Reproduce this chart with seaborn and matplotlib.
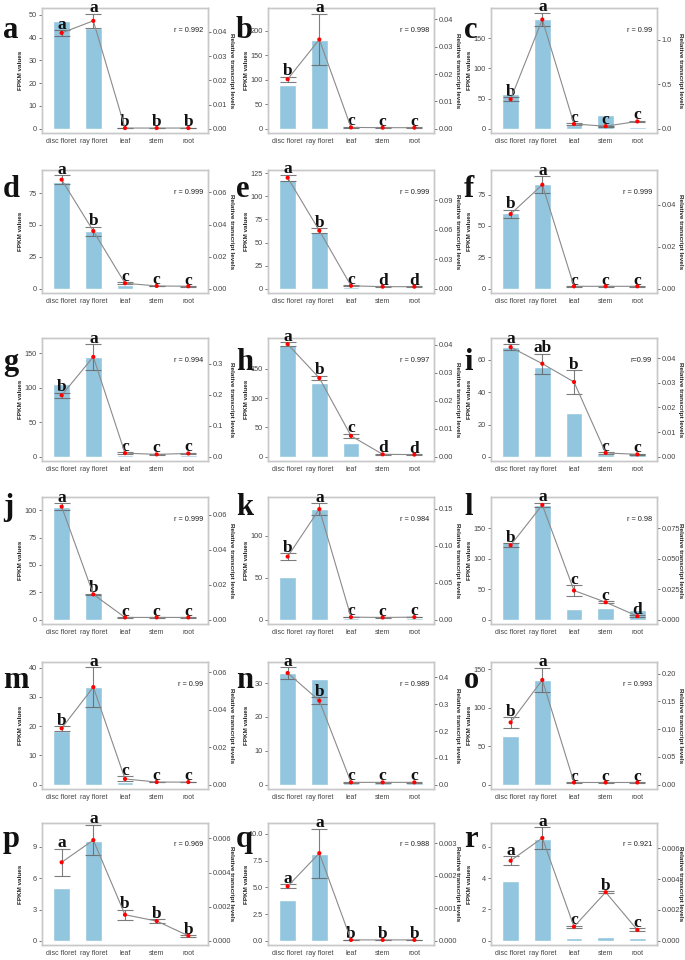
# FPKM vs relative transcript levels — 18 gene panels (a-r)

import numpy as np
import pandas as pd
import matplotlib
matplotlib.use('Agg')
import matplotlib.pyplot as plt
import seaborn as sns

sns.set_theme(style="white")
plt.rcParams['font.family'] = ['Liberation Sans', 'DejaVu Sans']

# --- Data ---
tissues = ['disc floret', 'ray floret', 'leaf', 'stem', 'root']
panel_ids = list('abcdefghijklmnopqr')

# FPKM bars (left axis)
fpkm = [
    [47.3, 44.2, 0.5, 0.3, 0.3],      # a
    [89, 181, 3, 2, 2],               # b
    [58, 182, 7, 22, 3],              # c
    [84, 45, 3, 1, 1],                # d
    [118, 61, 2, 1, 1],               # e
    [60.5, 83, 1, 0.8, 0.8],          # f
    [106, 145, 3, 1, 2],              # g
    [191, 125, 23, 2, 1],             # h
    [68, 55.7, 27.4, 2, 2.5],         # i
    [103.3, 23.5, 1, 0.5, 0.5],       # j
    [51, 132, 2, 1, 1.5],             # k
    [128, 188, 17.7, 19.2, 15.6],     # l
    [18.3, 33.3, 0.9, 0.3, 0.3],      # m
    [32.9, 31.1, 0.5, 0.5, 0.5],      # n
    [63.8, 136, 1.5, 1.5, 1.5],       # o
    [5.1, 9.6, 0.1, 0.1, 0.08],       # p
    [3.8, 8.1, 0.1, 0.1, 0.05],       # q
    [3.8, 6.5, 0.2, 0.25, 0.2],       # r
]

# relative transcript levels (right axis) and their errors
rel = [
    [0.0396, 0.0446, 0.0003, 0.0003, 0.0003],
    [0.0181, 0.0326, 0.0005, 0.0004, 0.0004],
    [0.333, 1.23, 0.054, 0.029, 0.083],
    [0.068, 0.036, 0.0035, 0.0018, 0.0016],
    [0.1126, 0.059, 0.0031, 0.0022, 0.0022],
    [0.0355, 0.0494, 0.0012, 0.0012, 0.0012],
    [0.199, 0.323, 0.012, 0.008, 0.011],
    [0.0403, 0.0282, 0.0075, 0.0009, 0.0008],
    [0.0444, 0.0377, 0.0303, 0.0016, 0.001],
    [0.0647, 0.0145, 0.0013, 0.0013, 0.0013],
    [0.0854, 0.1496, 0.0035, 0.003, 0.0035],
    [0.061, 0.094, 0.0239, 0.0143, 0.0029],
    [0.0301, 0.0521, 0.0031, 0.0014, 0.0014],
    [0.416, 0.313, 0.0087, 0.0087, 0.0087],
    [0.1122, 0.1887, 0.004, 0.004, 0.004],
    [0.0046, 0.0059, 0.00153, 0.00116, 0.0003],
    [0.00168, 0.0027, 0.00003, 0.00003, 0.00003],
    [0.00519, 0.00666, 0.00092, 0.00315, 0.00071],
]
rel_err = [
    [0.0011, 0.003, 0.0001, 0.0001, 0.0001],
    [0.0009, 0.0094, 0.0002, 0.0001, 0.0001],
    [0.02, 0.075, 0.012, 0.005, 0.01],
    [0.0027, 0.0028, 0.0007, 0.0002, 0.0002],
    [0.003, 0.0025, 0.0005, 0.0002, 0.0002],
    [0.002, 0.0041, 0.0002, 0.0001, 0.0001],
    [0.008, 0.041, 0.003, 0.002, 0.002],
    [0.0006, 0.0008, 0.0008, 0.0002, 0.0001],
    [0.0013, 0.0041, 0.0047, 0.0004, 0.0002],
    [0.002, 0.0003, 0.0002, 0.0001, 0.0001],
    [0.0046, 0.0078, 0.0005, 0.0003, 0.0004],
    [0.0016, 0.0019, 0.0045, 0.001, 0.0008],
    [0.0012, 0.0105, 0.0013, 0.0002, 0.0002],
    [0.022, 0.014, 0.002, 0.002, 0.002],
    [0.0095, 0.0218, 0.001, 0.001, 0.001],
    [0.0008, 0.0009, 0.0003, 0.0001, 0.00005],
    [0.00006, 0.00075, 0.00001, 0.00001, 0.00001],
    [0.00028, 0.00071, 0.00007, 0.00007, 0.0001],
]

sig_letters = [
    ['a', 'a', 'b', 'b', 'b'], ['b', 'a', 'c', 'c', 'c'], ['b', 'a', 'c', 'c', 'c'],
    ['a', 'b', 'c', 'c', 'c'], ['a', 'b', 'c', 'd', 'd'], ['b', 'a', 'c', 'c', 'c'],
    ['b', 'a', 'c', 'c', 'c'], ['a', 'b', 'c', 'd', 'd'], ['a', 'ab', 'b', 'c', 'c'],
    ['a', 'b', 'c', 'c', 'c'], ['b', 'a', 'c', 'c', 'c'], ['b', 'a', 'c', 'c', 'd'],
    ['b', 'a', 'c', 'c', 'c'], ['a', 'b', 'c', 'c', 'c'], ['b', 'a', 'c', 'c', 'c'],
    ['a', 'a', 'b', 'b', 'b'], ['a', 'a', 'b', 'b', 'b'], ['a', 'a', 'c', 'b', 'c'],
]

r_labels = ['r = 0.992', 'r = 0.998', 'r = 0.99', 'r = 0.999', 'r = 0.999', 'r = 0.999',
            'r = 0.994', 'r = 0.997', 'r=0.99', 'r = 0.999', 'r = 0.984', 'r = 0.98',
            'r = 0.99', 'r = 0.989', 'r = 0.993', 'r = 0.969', 'r = 0.988', 'r = 0.921']

left_ticks = [
    ['0', '10', '20', '30', '40', '50'], ['0', '50', '100', '150', '200'], ['0', '50', '100', '150'],
    ['0', '25', '50', '75'], ['0', '25', '50', '75', '100', '125'], ['0', '25', '50', '75'],
    ['0', '50', '100', '150'], ['0', '50', '100', '150'], ['0', '20', '40', '60'],
    ['0', '25', '50', '75', '100'], ['0', '50', '100'], ['0', '50', '100', '150'],
    ['0', '10', '20', '30', '40'], ['0', '10', '20', '30'], ['0', '50', '100', '150'],
    ['0', '3', '6', '9'], ['0.0', '2.5', '5.0', '7.5', '10.0'], ['0', '2', '4', '6'],
]
left_top = [53, 246, 200, 93, 128.3, 94.5, 172, 202.5, 73.6,
            112, 146.5, 201, 41.9, 36.2, 159.5, 11.3, 11.0, 7.5]

right_ticks = [
    ['0.00', '0.01', '0.02', '0.03', '0.04'], ['0.00', '0.01', '0.02', '0.03', '0.04'], ['0.0', '0.5', '1.0'],
    ['0.00', '0.02', '0.04', '0.06'], ['0.00', '0.03', '0.06', '0.09'], ['0.00', '0.02', '0.04'],
    ['0.0', '0.1', '0.2', '0.3'], ['0.00', '0.01', '0.02', '0.03', '0.04'], ['0.00', '0.01', '0.02', '0.03', '0.04'],
    ['0.00', '0.02', '0.04', '0.06'], ['0.00', '0.05', '0.10', '0.15'], ['0.000', '0.025', '0.050', '0.075'],
    ['0.00', '0.02', '0.04', '0.06'], ['0.0', '0.1', '0.2', '0.3', '0.4'], ['0.00', '0.05', '0.10', '0.15', '0.20'],
    ['0.000', '0.002', '0.004', '0.006'], ['0.000', '0.001', '0.002', '0.003'], ['0.000', '0.002', '0.004', '0.006'],
]
right_top = [0.0499, 0.0441, 1.36, 0.074, 0.1204, 0.0564, 0.384, 0.0425, 0.0481,
             0.0702, 0.166, 0.1005, 0.0655, 0.457, 0.221, 0.0069, 0.00363, 0.00763]

# --- Style / layout ---
BAR_COLOR = '#92c5de'
SPINE_COLOR = '#c8c8c8'
W, H = 685, 960
col_left = [42, 268, 491]
col_width = 166
row_top = [8, 170, 338, 497, 662, 823]
row_bottom = [133, 293, 461, 624, 789, 945]
letter_x = [3, 236, 464]
letter_base = [30, 27, 32, 18, 26, 24]   # px below row top
PAD = 0.035

fig = plt.figure(figsize=(6.85, 9.6), dpi=100)

for k, pid in enumerate(panel_ids):
    row, col = divmod(k, 3)
    x0 = col_left[col]
    h = row_bottom[row] - row_top[row]
    ax = fig.add_axes([x0 / W, 1 - row_bottom[row] / H, col_width / W, h / H])

    df = pd.DataFrame({'tissue': tissues, 'fpkm': fpkm[k]})
    sns.barplot(data=df, x='tissue', y='fpkm', color=BAR_COLOR, saturation=1,
                width=0.52, edgecolor='white', linewidth=1, ax=ax)
    ax.set_ylim(-PAD * left_top[k], left_top[k])
    ax.set_yticks([float(t) for t in left_ticks[k]], labels=left_ticks[k])
    ax.set_xlabel('')
    ax.set_ylabel('FPKM values', fontsize=4.6, fontweight='bold', color='#222')
    ax.yaxis.set_label_coords(-0.115, 0.5)
    ax.tick_params(axis='y', labelsize=5.3, colors='#444', length=2, width=0.5, pad=1.5)
    ax.tick_params(axis='x', labelsize=5.0, colors='#444', length=2, width=0.5, pad=1.5)

    # relative transcript levels on the twin axis
    ax2 = ax.twinx()
    xs = np.arange(len(tissues))
    ax2.errorbar(xs, rel[k], yerr=rel_err[k], fmt='none', ecolor='#666666',
                 elinewidth=0.8, capsize=5.5, capthick=0.8, alpha=0.85, zorder=3)
    sns.lineplot(x=xs, y=rel[k], ax=ax2, color='#8a8a8a', linewidth=0.8, zorder=4)
    sns.scatterplot(x=xs, y=rel[k], ax=ax2, color='red', s=9, edgecolor='none', zorder=5)
    ax2.set_ylim(-PAD * right_top[k], right_top[k])
    ax2.set_yticks([float(t) for t in right_ticks[k]], labels=right_ticks[k])
    ax2.set_ylabel('Relative transcript levels', fontsize=4.6, fontweight='bold',
                   rotation=270, va='center', color='#222')
    ax2.yaxis.set_label_coords(1.14, 0.5)
    ax2.tick_params(axis='y', labelsize=5.3, colors='#444', length=2, width=0.5, pad=1.5)

    for i, lab in enumerate(sig_letters[k]):
        ax2.annotate(lab, (i, rel[k][i] + rel_err[k][i]), xytext=(0, 1),
                     textcoords='offset points', ha='center', va='baseline',
                     fontsize=12.5, fontweight='bold', family='Liberation Serif',
                     color='#111', annotation_clip=False)

    ax.text(0.97, 0.82, r_labels[k], transform=ax.transAxes, ha='right', va='center',
            fontsize=5.3, color='#222')

    ax.set_xlim(-0.62, 4.62)
    for a in (ax, ax2):
        for s in a.spines.values():
            s.set_color(SPINE_COLOR)
            s.set_linewidth(1.0)

    fig.text(letter_x[col] / W, 1 - (row_top[row] + letter_base[row]) / H, pid,
             fontsize=22, fontweight='bold', family='Liberation Serif',
             va='baseline', ha='left', color='#111')

plt.savefig('out.png', dpi=100)
plt.close()
print("saved out.png")
